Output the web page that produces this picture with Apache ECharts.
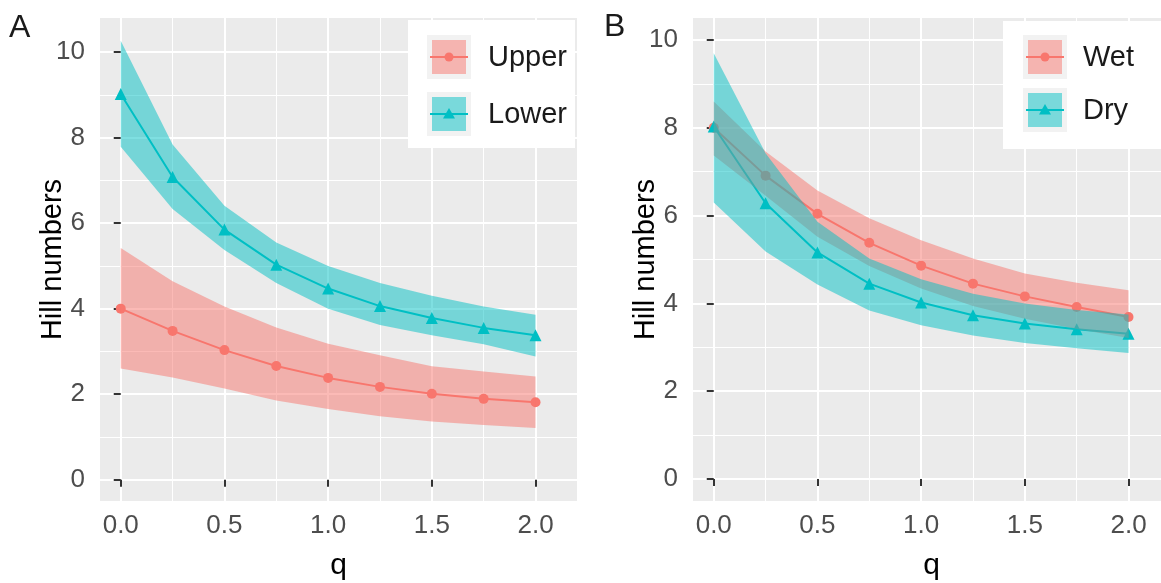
<!DOCTYPE html>
<html>
<head>
<meta charset="utf-8">
<script src="https://cdn.jsdelivr.net/npm/echarts@6/dist/echarts.min.js"></script>
<style>
  html, body { margin: 0; padding: 0; background: #fff; }
  #chart { width: 1161px; height: 583px; }
</style>
</head>
<body>
<div id="chart"></div>
<script>
// q orders and tick values
const qValues = [0, 0.25, 0.5, 0.75, 1, 1.25, 1.5, 1.75, 2];
const xTicks = [0, 0.5, 1, 1.5, 2];
const xMinor = [0.25, 0.75, 1.25, 1.75];
const yTicks = [0, 2, 4, 6, 8, 10];
const yMinor = [1, 3, 5, 7, 9];

// panel A: Upper / Lower
const upperEst = [4.0, 3.48, 3.03, 2.66, 2.38, 2.17, 2.01, 1.89, 1.81];
const upperLo  = [2.6, 2.39, 2.13, 1.85, 1.65, 1.48, 1.36, 1.28, 1.21];
const upperHi  = [5.42, 4.64, 4.05, 3.56, 3.18, 2.91, 2.65, 2.53, 2.41];
const lowerEst = [9.02, 7.08, 5.85, 5.03, 4.47, 4.06, 3.78, 3.55, 3.38];
const lowerLo  = [7.79, 6.33, 5.37, 4.6, 4.0, 3.62, 3.38, 3.17, 2.88];
const lowerHi  = [10.27, 7.84, 6.41, 5.55, 5.0, 4.6, 4.3, 4.05, 3.86];

// panel B: Wet / Dry
const wetEst = [8.0, 6.91, 6.04, 5.38, 4.86, 4.45, 4.16, 3.92, 3.69];
const wetLo  = [7.37, 6.45, 5.52, 4.85, 4.34, 3.94, 3.65, 3.42, 3.21];
const wetHi  = [8.6, 7.46, 6.57, 5.94, 5.44, 5.02, 4.68, 4.47, 4.3];
const dryEst = [8.03, 6.28, 5.16, 4.45, 4.02, 3.73, 3.54, 3.41, 3.31];
const dryLo  = [6.3, 5.18, 4.43, 3.84, 3.5, 3.27, 3.1, 2.98, 2.87];
const dryHi  = [9.7, 7.42, 5.86, 5.02, 4.55, 4.22, 4.0, 3.85, 3.75];

const legendA = ['Upper', 'Lower'];
const legendB = ['Wet', 'Dry'];

const FONT = '"Liberation Sans", Arial, sans-serif';
const RED = '#F8766D';
const CYAN = '#00BFC4';
const RED_FILL = 'rgba(248,118,109,0.5)';
const CYAN_FILL = 'rgba(0,191,196,0.5)';

const chart = echarts.init(document.getElementById('chart'));

function xAxes(gridIndex) {
  return [{
    type: 'value', gridIndex, min: -0.1, max: 2.2,
    name: 'q', nameLocation: 'middle', nameGap: 50, nameMoveOverlap: false,
    nameTextStyle: { fontFamily: FONT, fontSize: 30, color: '#000' },
    axisLine: { show: false },
    axisTick: { show: true, length: 7, customValues: xTicks, lineStyle: { color: '#333', width: 2 } },
    axisLabel: { customValues: xTicks, formatter: v => v.toFixed(1), fontFamily: FONT, fontSize: 26, color: '#4D4D4D', margin: 12 },
    splitLine: { show: true, lineStyle: { color: '#fff', width: 2 } }
  }, {
    type: 'value', gridIndex, min: -0.1, max: 2.2,
    axisLine: { show: false },
    axisTick: { show: false, customValues: xMinor },
    axisLabel: { show: false },
    splitLine: { show: true, lineStyle: { color: '#fff', width: 1 } }
  }];
}

function yAxes(gridIndex, max) {
  return [{
    type: 'value', gridIndex, min: -0.5, max,
    name: 'Hill numbers', nameLocation: 'middle', nameGap: 33, nameRotate: 90, nameMoveOverlap: false,
    nameTextStyle: { fontFamily: FONT, fontSize: 29, color: '#000' },
    axisLine: { show: false },
    axisTick: { show: true, length: 7, customValues: yTicks, lineStyle: { color: '#333', width: 2 } },
    axisLabel: { customValues: yTicks, fontFamily: FONT, fontSize: 26, color: '#4D4D4D', margin: 15 },
    splitLine: { show: true, lineStyle: { color: '#fff', width: 2 } }
  }, {
    type: 'value', gridIndex, min: -0.5, max,
    axisLine: { show: false },
    axisTick: { show: false, customValues: yMinor },
    axisLabel: { show: false },
    splitLine: { show: true, lineStyle: { color: '#fff', width: 1 } }
  }];
}

// ribbons sit above the lines and points, like the original plot
function band(axisIndex, lo, hi, fill) {
  return {
    type: 'custom', xAxisIndex: axisIndex, yAxisIndex: axisIndex, silent: true, z: 5,
    data: qValues.map((q, i) => [q, lo[i], hi[i]]),
    renderItem(params, api) {
      if (params.dataIndex !== 0) return null;
      const top = qValues.map((q, i) => api.coord([q, hi[i]]));
      const bottom = qValues.map((q, i) => api.coord([q, lo[i]])).reverse();
      return { type: 'polygon', shape: { points: top.concat(bottom) }, style: { fill } };
    }
  };
}

function line(axisIndex, name, est, color, symbol, size) {
  return {
    type: 'line', name, xAxisIndex: axisIndex, yAxisIndex: axisIndex, silent: true,
    data: qValues.map((q, i) => [q, est[i]]),
    symbol, symbolSize: size, showSymbol: true,
    lineStyle: { color, width: 2 }, itemStyle: { color }
  };
}

function legendBox(left, top, width, keyX, textX, rows, names) {
  const els = [{ type: 'rect', z: 100, shape: { x: left, y: top, width, height: 128 }, style: { fill: '#fff' } }];
  rows.forEach((cy, i) => {
    const color = i === 0 ? RED : CYAN;
    const fill = i === 0 ? RED_FILL : CYAN_FILL;
    els.push({ type: 'rect', z: 101, shape: { x: keyX - 22, y: cy - 22, width: 44, height: 44 }, style: { fill: '#F2F2F2' } });
    els.push({ type: 'rect', z: 102, shape: { x: keyX - 17, y: cy - 17, width: 34, height: 34 }, style: { fill } });
    els.push({ type: 'line', z: 103, shape: { x1: keyX - 19, y1: cy, x2: keyX + 19, y2: cy }, style: { stroke: color, lineWidth: 2 } });
    if (i === 0) {
      els.push({ type: 'circle', z: 104, shape: { cx: keyX, cy, r: 4.5 }, style: { fill: color } });
    } else {
      els.push({ type: 'polygon', z: 104, shape: { points: [[keyX, cy - 6], [keyX + 6, cy + 4.5], [keyX - 6, cy + 4.5]] }, style: { fill: color } });
    }
    els.push({ type: 'text', z: 105, x: textX, y: cy + 1, style: { text: names[i], fontFamily: FONT, fontSize: 29, fill: '#1A1A1A', verticalAlign: 'middle' } });
  });
  return els;
}

const letterStyle = { fontFamily: FONT, fontSize: 32, fontWeight: 'normal', color: '#1A1A1A' };

chart.setOption({
  animation: false,
  title: [
    { text: 'A', left: 9, top: 12, padding: 0, textStyle: letterStyle },
    { text: 'B', left: 604, top: 11, padding: 0, textStyle: letterStyle }
  ],
  grid: [
    { left: 100, top: 18, width: 477, height: 483, outerBoundsMode: 'none', show: true, backgroundColor: '#EBEBEB', borderWidth: 0 },
    { left: 693, top: 18, width: 477, height: 483, outerBoundsMode: 'none', show: true, backgroundColor: '#EBEBEB', borderWidth: 0 }
  ],
  xAxis: [...xAxes(0), ...xAxes(1)],
  yAxis: [...yAxes(0, 10.8), ...yAxes(1, 10.5)],
  series: [
    line(0, 'Upper', upperEst, RED, 'circle', 10),
    line(0, 'Lower', lowerEst, CYAN, 'triangle', 12),
    band(0, upperLo, upperHi, RED_FILL),
    band(0, lowerLo, lowerHi, CYAN_FILL),
    line(2, 'Wet', wetEst, RED, 'circle', 10),
    line(2, 'Dry', dryEst, CYAN, 'triangle', 12),
    band(2, wetLo, wetHi, RED_FILL),
    band(2, dryLo, dryHi, CYAN_FILL)
  ],
  graphic: [
    ...legendBox(408, 20, 167, 449, 488, [57, 114], legendA),
    ...legendBox(1003, 21, 170, 1045, 1083, [57, 110], legendB)
  ]
});
</script>
</body>
</html>
